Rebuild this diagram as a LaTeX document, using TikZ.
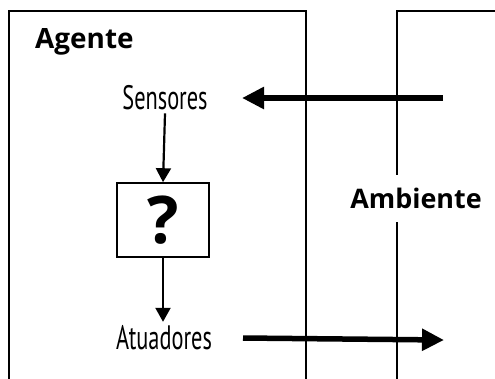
\documentclass[tikz,border=0pt]{standalone}
\usepackage{fontspec}
\setmainfont{PT Sans}
\newfontfamily\narrowfont[FakeStretch=0.66]{PT Sans}
\newfontfamily\headfont{Open Sans}
\usetikzlibrary{arrows.meta}

\begin{document}
\begin{tikzpicture}[x=1bp,y=-1bp,
		frame/.style={line width=1.6bp},
		label/.style={font=\narrowfont\fontsize{34}{36}\selectfont, inner sep=0pt},
		title/.style={font=\headfont\bfseries\fontsize{28}{30}\selectfont, inner sep=0pt},
		bigarrow/.style={line width=5.5bp, -{Triangle[length=22bp,width=21bp]}},
		smallarrow/.style={line width=2.2bp, -{Triangle[length=14bp,width=15bp]}}]
	\useasboundingbox (0,0) rectangle (495,378);
	\clip (0,0) rectangle (495,378);

	% agente and ambiente
	\draw [frame] (9,390) -- (9,11) -- (306,11) -- (306,390);
	\draw [frame] (397,390) -- (397,11) -- (510,11);

	\node [title, anchor=base west] (agente) at (35,48) {Agente};
	\node [title, font=\headfont\bfseries\fontsize{27}{30}\selectfont, fill=white,
		minimum height=47bp, minimum width=126bp] (ambiente) at (416,198) {Ambiente};

	% inside the agent
	\node [label] (sensores) at (165,98) {Sensores};
	\node [draw, frame, minimum width=92bp, minimum height=74bp] (decide) at (163,220)
		{\headfont\bfseries\fontsize{66}{68}\selectfont ?};
	\node [label] (atuadores) at (164,338) {Atuadores};

	\coordinate (percept) at (443,98);
	\coordinate (action) at (444,340);

	\draw [smallarrow] (sensores.south) ++(0,3) -- (decide.north);
	\draw [smallarrow] (decide.south) -- ++(0,64);

	\draw [bigarrow, shorten >=2bp] (percept) -- (sensores.east -| 240,0);
	\draw [bigarrow] (atuadores.east -| 243,0) -- (action);
\end{tikzpicture}
\end{document}
